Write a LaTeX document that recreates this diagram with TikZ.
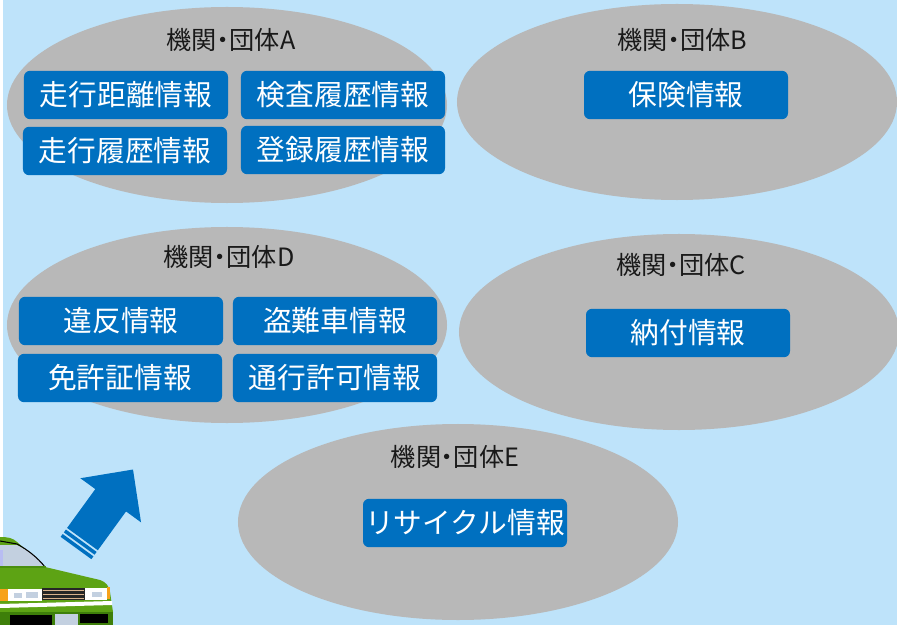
\documentclass[tikz,border=0pt]{standalone}
\usepackage{fontspec}
\newfontfamily\jp{Noto Sans CJK JP}
\usetikzlibrary{shapes.geometric}
\definecolor{skybg}{HTML}{BEE3FA}
\definecolor{orggray}{HTML}{B8B8B8}
\definecolor{infoblue}{HTML}{0070C0}
\definecolor{cargreen}{HTML}{5DA314}
\definecolor{cardark}{HTML}{3E7F0A}
\definecolor{glass}{HTML}{C3D0E0}
\definecolor{lamp}{HTML}{F7A21B}
\newcommand{\orgname}[1]{機関\kern-.25em・\kern-.25em団体#1}
\tikzset{
  orgell/.style={ellipse, fill=orggray, inner sep=0pt, minimum width=13.2cm, minimum height=5.88cm},
  orgtitle/.style={font=\jp\fontsize{21.5}{25}\selectfont, text=black!90, inner sep=0pt},
  infobox/.style={fill=infoblue, rounded corners=0.18cm, minimum width=6.12cm, minimum height=1.45cm,
    inner sep=0pt, text=white, font=\jp\fontsize{24.5}{28}\selectfont},
}
\begin{document}
\begin{tikzpicture}[x=0.03cm, y=-0.03cm]
  % canvas
  \fill[skybg] (0,0) rectangle (897,625);
  \useasboundingbox (0,0) rectangle (897,625);
  \fill[white] (0,0) rectangle (3,537);

  % organisations
  \node[orgell] (orgA) at (227,105) {};
  \node[orgell] (orgB) at (677,102) {};
  \node[orgell] (orgD) at (227,325) {};
  \node[orgell] (orgC) at (679,332) {};
  \node[orgell] (orgE) at (458,522) {};

  \node[orgtitle] (tA) at (231,40) {\orgname{A}};
  \node[orgtitle] (tB) at (682,40) {\orgname{B}};
  \node[orgtitle] (tD) at (229,257) {\orgname{D}};
  \node[orgtitle] (tC) at (681,265) {\orgname{C}};
  \node[orgtitle] (tE) at (455,457) {\orgname{E}};

  % information held by each organisation
  \node[infobox] (a1) at (126,95) {走行距離情報};
  \node[infobox] (a2) at (343,95) {検査履歴情報};
  \node[infobox] (a3) at (125,151) {走行履歴情報};
  \node[infobox] (a4) at (343,150) {登録履歴情報};
  \node[infobox] (b1) at (686,95) {保険情報};
  \node[infobox] (d1) at (121,321) {違反情報};
  \node[infobox] (d2) at (335,321) {盗難車情報};
  \node[infobox] (d3) at (120,378) {免許証情報};
  \node[infobox] (d4) at (335,378) {通行許可情報};
  \node[infobox] (c1) at (688,333) {納付情報};
  \node[infobox] (e1) at (465,523) {リサイクル情報};

  % striped block arrow
  \begin{scope}[shift={(76,548)}, rotate=54]
    \fill[infoblue] (11,-19) -- (59,-19) -- (59,-37.5) -- (97,0) -- (59,37.5) -- (59,19) -- (11,19) -- cycle;
    \fill[infoblue] (5.5,-19) rectangle (9,19);
    \fill[infoblue] (0,-19) rectangle (3.5,19);
  \end{scope}

  % car front
  \fill[cargreen] (0,537) .. controls (8,537) and (13,538) .. (17,542) -- (45,567)
    -- (100,580) .. controls (106,582) and (109,586) .. (110,592) -- (113,612) -- (112,625) -- (0,625) -- cycle;
  \fill[glass] (0,545) -- (17,545) .. controls (28,550) and (38,558) .. (45,567) -- (0,567) -- cycle;
  \fill[glass!70!blue!60] (0,550) rectangle (3,566);
  \draw[black, line width=0.9pt] (0,541) -- (17,544) .. controls (28,550) and (38,558) .. (45,567);
  \fill[cardark!60!cargreen] (0,566) rectangle (46,568);
  % lamps and grille
  \fill[lamp] (0,589) rectangle (8,601);
  \fill[white] (8,589) rectangle (42,601);
  \fill[glass] (14,593) rectangle (22,598);
  \fill[glass] (26,592) rectangle (38,598);
  \fill[black!85] (42,588) rectangle (85,600);
  \foreach \yy in {590,594,598}
    \fill[brown!60!white] (43,\yy) rectangle (84,\yy+1.4);
  \fill[white] (85,588) rectangle (107,600);
  \fill[glass] (92,592) rectangle (102,597);
  \fill[lamp] (107,587) rectangle (110,599);
  % bumper
  \fill[white] (0,604) -- (112,601) -- (112,605) -- (0,608) -- cycle;
  \fill[cardark] (0,612) rectangle (113,625);
  \fill[black] (10,615) rectangle (52,625);
  \fill[glass] (55,614) rectangle (78,625);
  \fill[black] (80,614) rectangle (108,623);
\end{tikzpicture}
\end{document}
